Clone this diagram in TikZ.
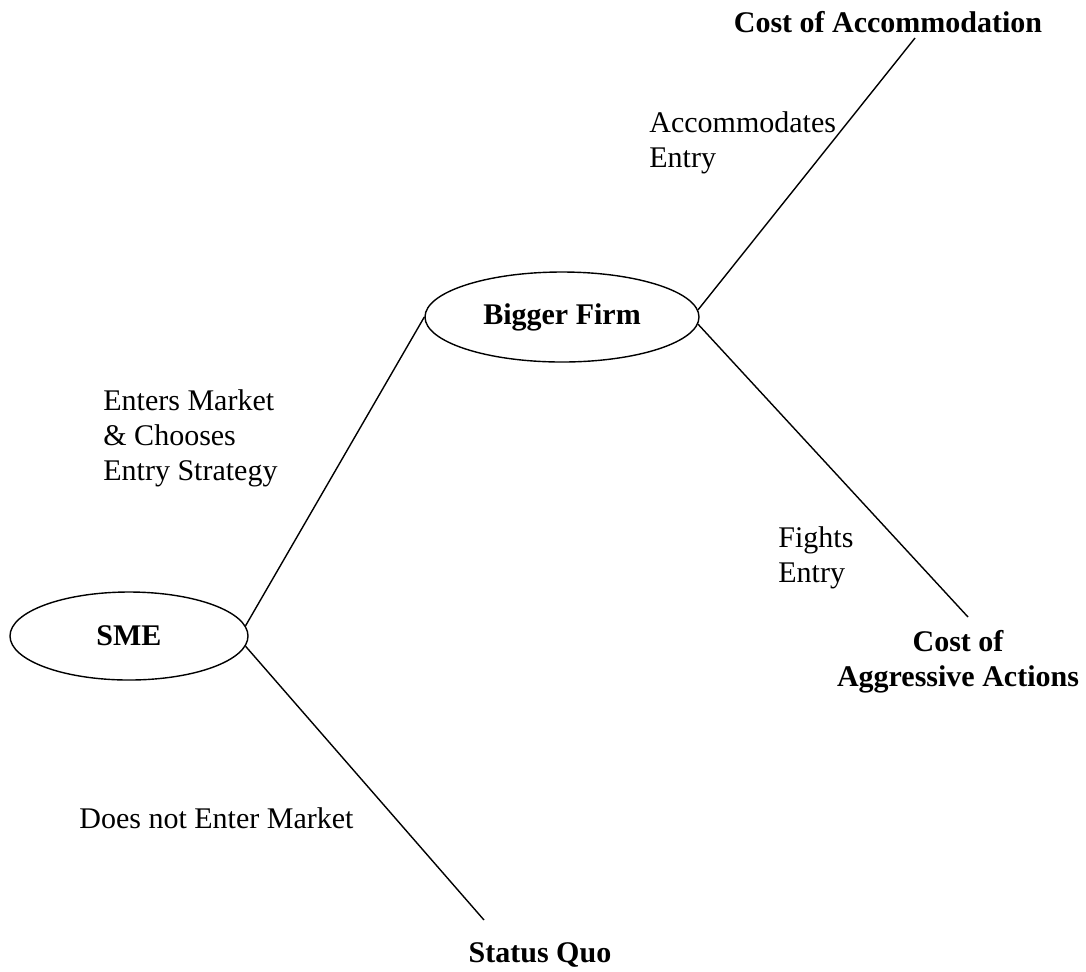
\documentclass[tikz,border=0pt]{standalone}
\usepackage{fontspec}
\setmainfont{Liberation Serif}
\usetikzlibrary{shapes.geometric}

\begin{document}
\begin{tikzpicture}[
    x=0.5pt, y=-0.5pt,
    player/.style={
      ellipse,
      draw,
      line width=0.7pt,
      minimum width=119pt,
      minimum height=44pt,
      inner sep=0pt,
      font=\fontsize{15}{18}\selectfont\bfseries
    },
    move/.style={
      inner sep=0pt,
      anchor=west,
      align=left,
      font=\fontsize{15}{17.5}\selectfont
    },
    payoff/.style={
      inner sep=0pt,
      align=center,
      font=\fontsize{15}{17.5}\selectfont\bfseries
    },
    branch/.style={line width=0.7pt}
  ]
        \useasboundingbox (0,0) rectangle (1086,971);

        % the two players
        \node[player] (sme) at (129,636) {SME};
        \node[player, minimum width=137pt, minimum height=45pt] (firm) at (562,317) {Bigger Firm};

        % ends of the branches
        \coordinate (quoend) at (484,920);
        \coordinate (accend) at (915,38);
        \coordinate (aggend) at (968,617);

        \draw[branch] (sme.5) -- (firm.west);
        \draw[branch] (sme.-5) -- (quoend);
        \draw[branch] (firm.3) -- (accend);
        \draw[branch] (firm.-3) -- (aggend);

        % moves
        \node[move] (enters) at (103,438) {Enters Market\\\& Chooses\\Entry Strategy};
        \node[move] (stays) at (79,818) {Does not Enter Market};
        \node[move] (accom) at (649,143) {Accommodates\\Entry};
        \node[move] (fights) at (778,558) {Fights\\Entry};

        % payoffs
        \node[payoff] (quo) at (540,955) {Status Quo};
        \node[payoff] (acccost) at (888,22) {Cost of Accommodation};
        \node[payoff] (aggcost) at (958,662) {Cost of\\Aggressive Actions};

    \end{tikzpicture}
\end{document}
